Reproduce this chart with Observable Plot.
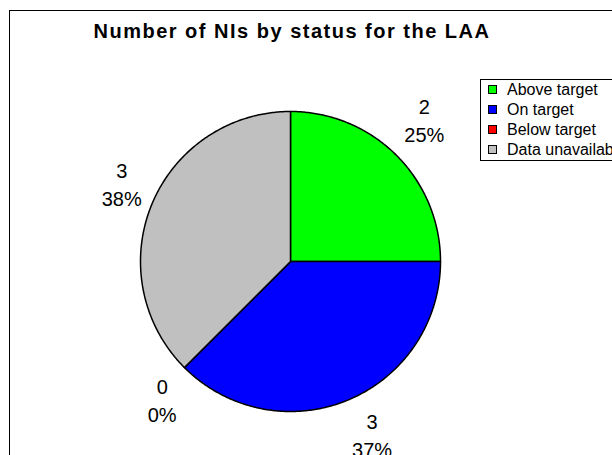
<!DOCTYPE html>
<html>
<head>
<meta charset="utf-8">
<script src="https://cdn.jsdelivr.net/npm/d3@7"></script>
<script src="https://cdn.jsdelivr.net/npm/@observablehq/plot@0.6"></script>
<style>
  html, body { margin: 0; padding: 0; background: #fff; }
  #wrap { position: relative; width: 612px; height: 455px; overflow: hidden; font-family: "Liberation Sans", Arial, sans-serif; }
  #frame { position: absolute; left: 9px; top: 10px; width: 800px; height: 700px; border: 1.5px solid #000; box-sizing: border-box; }
  #title { position: absolute; left: 0; width: 584px; top: 20px; text-align: center; font-weight: bold; font-size: 20px; letter-spacing: 1.5px; color: #000; white-space: nowrap; }
  #chart { position: absolute; left: 0; top: 0; }
  #legend { position: absolute; left: 480px; top: 79px; width: 300px; height: 82px; border: 1px solid #000; box-sizing: border-box; background: #fff; }
  .row { position: absolute; left: 7px; height: 20px; line-height: 20px; font-size: 16px; white-space: nowrap; color: #000; }
  .sw { display: inline-block; width: 7px; height: 7px; border: 1px solid #000; margin-right: 10px; vertical-align: middle; position: relative; top: -1px; }
</style>
</head>
<body>
<div id="wrap">
  <div id="frame"></div>
  <div id="chart"></div>
  <div id="title"></div>
  <div id="legend"></div>
</div>
<script>
const title = "Number of NIs by status for the LAA";
const statuses = ["Above target", "On target", "Below target", "Data unavailabl"];
const counts = [2, 3, 0, 3];
const percentLabels = ["25%", "37%", "0%", "38%"];
const colors = ["#00FF00", "#0000FF", "#FF0000", "#C0C0C0"];

// layout (pixels)
const W = 612, H = 455, cx = 290, cy = 261, R = 150;
const labelFont = 20, labelGap = 11, halfLineGap = 14, halfBoxH = 26;

document.getElementById("title").textContent = title;

const pie = d3.pie().sort(null).value(d => d.count)(
  statuses.map((s, i) => ({status: s, count: counts[i], pct: percentLabels[i]}))
);

// polygon points for each slice in unit coordinates (angle clockwise from top)
const pts = [];
pie.forEach(p => {
  const n = Math.max(2, Math.ceil((p.endAngle - p.startAngle) / 0.01));
  pts.push({status: p.data.status, x: 0, y: 0});
  for (let k = 0; k <= n; k++) {
    const a = p.startAngle + (p.endAngle - p.startAngle) * k / n;
    pts.push({status: p.data.status, x: Math.sin(a), y: Math.cos(a)});
  }
});

// label placement: label box sits outside the pie, beyond an anchor point on the mid-angle ray
const ctx = document.createElement("canvas").getContext("2d");
ctx.font = labelFont + "px 'Liberation Sans', Arial, sans-serif";
const labels = pie.map(p => {
  const a = (p.startAngle + p.endAngle) / 2;
  const s = Math.sin(a), c = Math.cos(a);
  const hw = Math.max(ctx.measureText(String(p.data.count)).width, ctx.measureText(p.data.pct).width) / 2;
  const ax = (R + labelGap) * s, ay = (R + labelGap) * c; // y up
  const lx = ax + Math.sign(s) * hw;
  const ly = ay + Math.sign(c) * halfBoxH * Math.min(1, Math.abs(c) / Math.SQRT1_2);
  return {status: p.data.status, count: String(p.data.count), pct: p.data.pct, x: lx / R, y: ly / R};
});

const chart = Plot.plot({
  width: W, height: H, margin: 0,
  x: {domain: [(0 - cx) / R, (W - cx) / R], axis: null},
  y: {domain: [-(H - cy) / R, cy / R], axis: null},
  color: {domain: statuses, range: colors},
  style: {fontFamily: "'Liberation Sans', Arial, sans-serif", background: "transparent"},
  marks: [
    Plot.line(pts, {x: "x", y: "y", z: "status", fill: "status", stroke: "#000", strokeWidth: 1.5, curve: "linear-closed"}),
    Plot.text(labels, {x: "x", y: "y", text: "count", dy: -halfLineGap, fontSize: labelFont, fill: "#000"}),
    Plot.text(labels, {x: "x", y: "y", text: "pct", dy: halfLineGap, fontSize: labelFont, fill: "#000"})
  ]
});
document.getElementById("chart").appendChild(chart);

const legend = document.getElementById("legend");
statuses.forEach((s, i) => {
  const row = document.createElement("div");
  row.className = "row";
  row.style.top = (i * 20) + "px";
  const sw = document.createElement("span");
  sw.className = "sw";
  sw.style.background = colors[i];
  row.appendChild(sw);
  row.appendChild(document.createTextNode(s));
  legend.appendChild(row);
});
</script>
</body>
</html>
